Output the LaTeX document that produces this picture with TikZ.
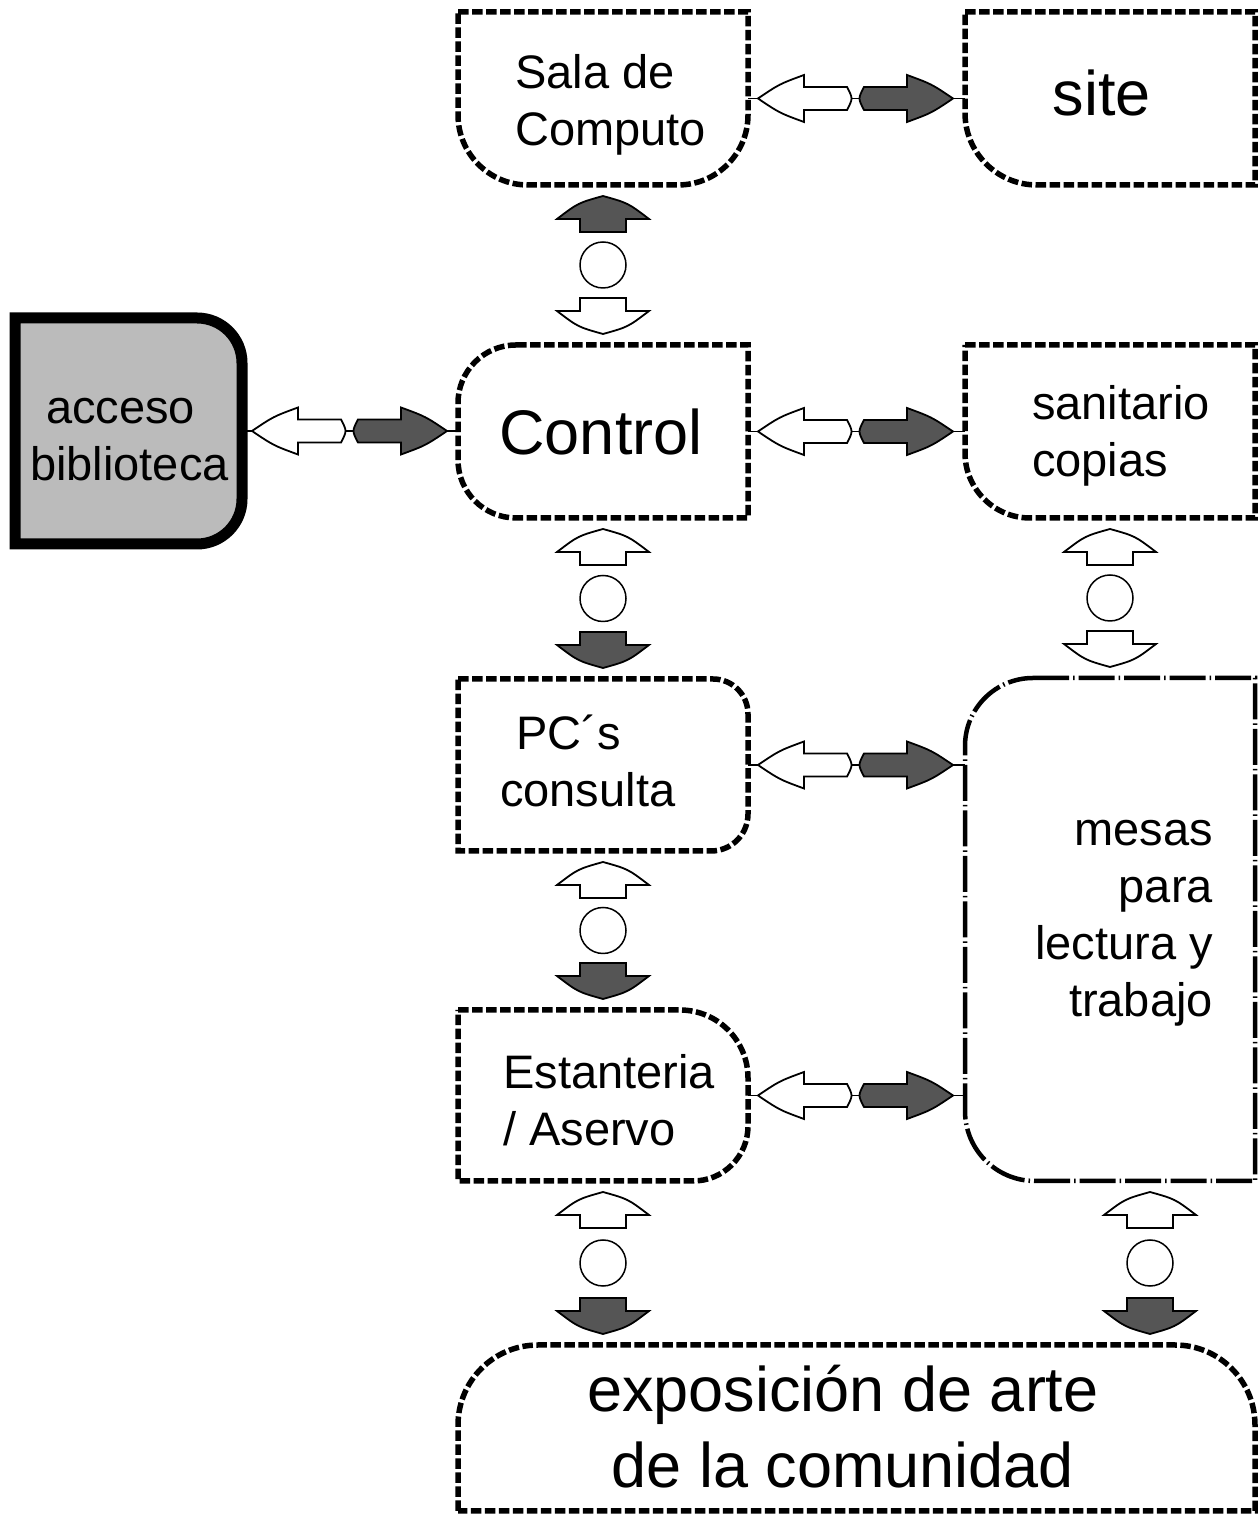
\documentclass[tikz,border=0pt]{standalone}
\usepackage{fontspec}
\setmainfont{Liberation Sans}
\usetikzlibrary{calc}
\definecolor{arrgray}{RGB}{85,85,85}
\definecolor{boxgray}{RGB}{187,187,187}
\tikzset{
  boxn/.style={rectangle, inner sep=0pt, outer sep=0pt, draw=none},
  dbox/.style={line width=5.5pt, dash pattern=on 10.5pt off 3.5pt},
  ddbox/.style={line width=4.5pt, dash pattern=on 36pt off 4pt on 1.5pt off 4pt},
  sbox/.style={line width=11pt, fill=boxgray, line join=miter},
  lbl/.style={inner sep=0pt, font=\fontsize{47}{57}\selectfont},
  big/.style={inner sep=0pt, font=\fontsize{63}{76}\selectfont},
  thinln/.style={line width=1.8pt},
  arw/.style={draw=black, line width=1.8pt, line join=miter},
  circ/.style={circle, draw, line width=1.5pt, fill=white, minimum size=46pt, inner sep=0pt},
  pics/vup/.style={code={
    \path[arw, fill=#1] (0,0) .. controls (25,-7) .. (46,-23) -- (23,-23) -- (23,-36)
      -- (-23,-36) -- (-23,-23) -- (-46,-23) .. controls (-25,-7) .. (0,0) -- cycle;}},
  pics/harr/.style={code={
    \path[arw, fill=#1] (0,0) .. controls (-21.5,-14.5) .. (-46,-23.5) -- (-46,-11.5) -- (-89,-11.5)
      .. controls (-95,0) .. (-89,11.5) -- (-46,11.5) -- (-46,23.5)
      .. controls (-21.5,14.5) .. (0,0) -- cycle;}},
}
\newcommand\hlink[2]{%
  \draw[thinln] (#1.east) -- ++(10,0);
  \pic[rotate=180] at ([xshift=10pt]#1.east) {harr=white};
  \draw[thinln] ([xshift=104pt]#1.east) -- ([xshift=112pt]#1.east);
  \pic at ([xshift=205pt]#1.east) {harr=arrgray};
  \draw[thinln] ([xshift=205pt]#1.east) -- (#2.west |- #1.east);
}
\newcommand\vlink[5]{%
  \coordinate (t#1) at ([xshift=#5pt]#1.south);
  \coordinate (b#1) at (t#1 |- #2.north);
  \pic at ([yshift=-11pt]t#1) {vup=#3};
  \node[circ] (c#1) at ($(t#1)!0.5!(b#1)$) {};
  \pic[rotate=180] at ([yshift=11pt]b#1) {vup=#4};
}
\begin{document}
\begin{tikzpicture}[x=1pt,y=1pt]
\useasboundingbox (0,0) rectangle (1260,1516);
% box frames
\node[boxn, minimum width=290pt, minimum height=173pt] (sala) at (603,1417.5) {};
\node[boxn, minimum width=290pt, minimum height=173pt] (site) at (1110,1417.5) {};
\node[boxn, minimum width=227pt, minimum height=226pt] (acceso) at (128.5,1085) {};
\node[boxn, minimum width=290pt, minimum height=173pt] (control) at (603,1084.5) {};
\node[boxn, minimum width=290pt, minimum height=173pt] (sanit) at (1110,1084.5) {};
\node[boxn, minimum width=290pt, minimum height=172pt] (pcs) at (603,751) {};
\node[boxn, minimum width=290pt, minimum height=171pt] (estan) at (603,420.5) {};
\node[boxn, minimum width=290pt, minimum height=503pt] (mesas) at (1110,586.5) {};
\node[boxn, minimum width=797pt, minimum height=166pt] (expo) at (856.5,88) {};

\draw[dbox] (sala.north west) -- (sala.north east) -- ([yshift=70pt]sala.south east)
  arc[start angle=0,end angle=-90,radius=70pt] -- ([xshift=70pt]sala.south west)
  arc[start angle=-90,end angle=-180,radius=70pt] -- cycle;
\draw[dbox] (site.north west) -- (site.north east) -- (site.south east) -- ([xshift=72pt]site.south west)
  arc[start angle=-90,end angle=-180,radius=72pt] -- cycle;
\draw[sbox] (acceso.north west) -- ([xshift=-45pt]acceso.north east)
  arc[start angle=90,end angle=0,radius=45pt] -- ([yshift=45pt]acceso.south east)
  arc[start angle=0,end angle=-90,radius=45pt] -- (acceso.south west) -- cycle;
\draw[dbox] ([xshift=58pt]control.north west) -- (control.north east) -- (control.south east)
  -- ([xshift=58pt]control.south west) arc[start angle=-90,end angle=-180,radius=58pt]
  -- ([yshift=-58pt]control.north west) arc[start angle=180,end angle=90,radius=58pt] -- cycle;
\draw[dbox] (sanit.north west) -- (sanit.north east) -- (sanit.south east) -- ([xshift=65pt]sanit.south west)
  arc[start angle=-90,end angle=-180,radius=65pt] -- cycle;
\draw[dbox] (pcs.north west) -- ([xshift=-35pt]pcs.north east)
  arc[start angle=90,end angle=0,radius=35pt] -- ([yshift=37pt]pcs.south east)
  arc[start angle=0,end angle=-90,radius=37pt] -- (pcs.south west) -- cycle;
\draw[dbox] (estan.north west) -- ([xshift=-68pt]estan.north east)
  arc[start angle=90,end angle=0,radius=68pt] -- ([yshift=55pt]estan.south east)
  arc[start angle=0,end angle=-90,radius=55pt] -- (estan.south west) -- cycle;
\draw[ddbox] ([xshift=68pt]mesas.north west) -- (mesas.north east) -- (mesas.south east)
  -- ([xshift=70pt]mesas.south west) arc[start angle=-90,end angle=-180,radius=70pt]
  -- ([yshift=-68pt]mesas.north west) arc[start angle=180,end angle=90,radius=68pt] -- cycle;
\draw[dbox] (expo.south west) -- ([yshift=-80pt]expo.north west)
  arc[start angle=180,end angle=90,radius=80pt] -- ([xshift=-80pt]expo.north east)
  arc[start angle=90,end angle=0,radius=80pt] -- (expo.south east) -- cycle;

% connectors
\hlink{sala}{site}
\hlink{acceso}{control}
\hlink{control}{sanit}
\hlink{pcs}{mesas}
\hlink{estan}{mesas}
\vlink{sala}{control}{arrgray}{white}{0}
\vlink{control}{pcs}{white}{arrgray}{0}
\vlink{pcs}{estan}{white}{arrgray}{0}
\vlink{estan}{expo}{white}{arrgray}{0}
\vlink{sanit}{mesas}{white}{white}{0}
\vlink{mesas}{expo}{white}{arrgray}{40}

% texts
\node[lbl, anchor=west, align=left] (salaT) at (515,1411.5) {Sala de\\Computo};
\node[big] (siteT) at (1102,1423.5) {site};
\node[lbl, anchor=west, align=left] (accesoT) at (30,1076) {\hspace*{16pt}acceso\\biblioteca};
\node[big] (controlT) at (601,1084) {Control};
\node[lbl, anchor=west, align=left] (sanitT) at (1032,1080.5) {sanitario\\copias};
\node[lbl, anchor=west, align=left] (pcsT) at (500,755) {\hspace*{16pt}PC´s\\consulta};
\node[lbl, anchor=west, align=left] (estanT) at (503,415.5) {Estanteria\\/ Aservo};
\node[lbl, anchor=east, align=right] (mesasT) at (1213,593) {mesas\\para\\lectura y\\trabajo};
\node[big, align=center] (expoT) at (843,89.5) {exposición de arte\\de la comunidad};
\end{tikzpicture}
\end{document}
